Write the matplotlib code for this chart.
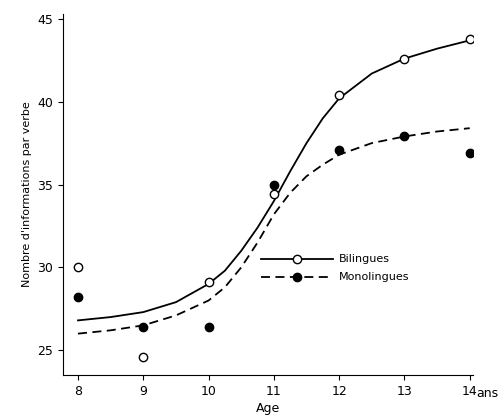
import matplotlib
matplotlib.use("Agg")
import matplotlib.pyplot as plt

ages = [8, 9, 10, 11, 12, 13, 14]
bil_pts = [30.0, 24.6, 29.1, 34.4, 40.4, 42.6, 43.8]
mono_pts = [28.2, 26.4, 26.4, 35.0, 37.1, 37.9, 36.9]
curve_x = [8, 8.5, 9, 9.5, 10, 10.25, 10.5, 10.75, 11, 11.25, 11.5, 11.75, 12, 12.5, 13, 13.5, 14]
bil_curve = [26.8, 27.0, 27.3, 27.9, 29.0, 29.8, 31.0, 32.4, 34.0, 35.8, 37.5, 39.0, 40.2, 41.7, 42.6, 43.2, 43.7]
mono_curve = [26.0, 26.2, 26.5, 27.1, 28.0, 28.8, 30.0, 31.5, 33.2, 34.5, 35.5, 36.2, 36.8, 37.5, 37.9, 38.2, 38.4]

fig = plt.figure(figsize=(5, 4.2), dpi=100)
ax = fig.add_axes([0.126, 0.107, 0.82, 0.86])
ax.plot(curve_x, bil_curve, 'k-', lw=1.3)
ax.plot(curve_x, mono_curve, 'k--', lw=1.3, dashes=(5, 3))
ax.plot(ages, bil_pts, 'o', mfc='white', mec='black', ms=6, mew=1)
ax.plot(ages, mono_pts, 'o', mfc='black', mec='black', ms=6)
# legend
ax.plot([10.8, 11.9], [30.5, 30.5], 'k-', lw=1.3)
ax.plot([11.35], [30.5], 'o', mfc='white', mec='black', ms=6)
ax.plot([10.8, 11.9], [29.4, 29.4], 'k--', lw=1.3, dashes=(5, 3))
ax.plot([11.35], [29.4], 'o', mfc='black', mec='black', ms=6)
ax.text(12.0, 30.5, 'Bilingues', va='center', fontsize=8)
ax.text(12.0, 29.4, 'Monolingues', va='center', fontsize=8)

ax.set_xlim(7.77, 14.05)
ax.set_ylim(23.5, 45.3)
ax.set_xticks(ages)
ax.set_yticks([25, 30, 35, 40, 45])
ax.spines['top'].set_visible(False)
ax.spines['right'].set_visible(False)
ax.tick_params(labelsize=9)
fig.text(0.975, 0.062, 'ans', fontsize=9, ha='center', va='center')
ax.set_xlabel('Age', fontsize=9, labelpad=3)
ax.set_ylabel("Nombre d'informations par verbe", fontsize=8)
fig.savefig('out.png', dpi=100)
